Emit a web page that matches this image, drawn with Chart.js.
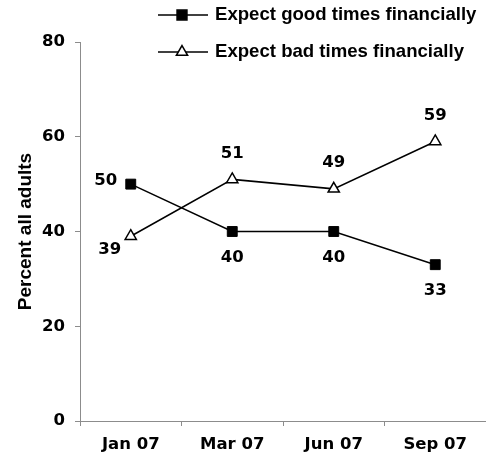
<!DOCTYPE html>
<html lang="en">
<head>
  <title>Financial expectations</title>
  <meta charset="UTF-8">
  <script src="https://cdn.jsdelivr.net/npm/chart.js"></script>
  <style>
    html, body { margin: 0; padding: 0; background: #fff; }
    #wrap { width: 486px; height: 465px; }
  </style>
</head>
<body>
<div id="wrap"><canvas id="finChart"></canvas></div>

<script>
  // chart data
  const months = ['Jan 07', 'Mar 07', 'Jun 07', 'Sep 07'];
  const goodTimes = [50, 40, 40, 33];
  const badTimes = [39, 51, 49, 59];
  const seriesNames = ['Expect good times financially', 'Expect bad times financially'];
  const yTicks = [0, 20, 40, 60, 80];

  // where each value label sits relative to its point
  const goodPlace = ['left', 'below', 'below', 'below'];
  const badPlace = ['leftBelow', 'above', 'above', 'above'];

  const labelFont = 'bold 16.5px "DejaVu Sans"';
  const axisGrey = '#8c8c8c';

  const offsets = {
    left: [-25, -3],
    leftBelow: [-21, 13],
    above: [0, -26],
    below: [0, 26]
  };

  // value labels next to points
  const valueLabels = {
    id: 'valueLabels',
    afterDatasetsDraw(chart) {
      const ctx = chart.ctx;
      ctx.save();
      ctx.font = labelFont;
      ctx.fillStyle = '#000';
      ctx.textAlign = 'center';
      ctx.textBaseline = 'middle';
      const places = [goodPlace, badPlace];
      chart.data.datasets.forEach((ds, i) => {
        const meta = chart.getDatasetMeta(i);
        meta.data.forEach((pt, j) => {
          const off = offsets[places[i][j]];
          ctx.fillText(ds.data[j], pt.x + off[0], pt.y + off[1]);
        });
      });
      ctx.restore();
    }
  };

  // legend: line sample with marker in the middle, stacked rows
  const stackedLegend = {
    id: 'stackedLegend',
    afterDraw(chart) {
      const ctx = chart.ctx;
      const rows = [15, 52];
      ctx.save();
      chart.data.datasets.forEach((ds, i) => {
        const y = rows[i];
        ctx.strokeStyle = '#000';
        ctx.lineWidth = 1.5;
        ctx.beginPath();
        ctx.moveTo(158, y);
        ctx.lineTo(208, y);
        ctx.stroke();
        ctx.fillStyle = ds.pointBackgroundColor;
        ctx.strokeStyle = ds.pointBorderColor;
        Chart.helpers.drawPoint(ctx, {
          pointStyle: ds.pointStyle,
          radius: ds.pointRadius,
          borderWidth: ds.pointBorderWidth,
          rotation: 0
        }, 182, y);
        ctx.fillStyle = '#000';
        ctx.font = 'bold 18.6px "Liberation Sans"';
        ctx.textAlign = 'left';
        ctx.textBaseline = 'middle';
        ctx.fillText(ds.label, 215, y);
      });
      ctx.restore();
    }
  };

  const ctx = document.getElementById('finChart').getContext('2d');
  const chart = new Chart(ctx, {
    type: 'line',
    data: {
      labels: months,
      datasets: [{
        label: seriesNames[0],
        data: goodTimes,
        borderColor: '#000',
        borderWidth: 1.5,
        pointStyle: 'rect',
        pointRadius: 7,
        pointBorderWidth: 1,
        pointBackgroundColor: '#000',
        pointBorderColor: '#000',
        tension: 0
      }, {
        label: seriesNames[1],
        data: badTimes,
        borderColor: '#000',
        borderWidth: 1.5,
        pointStyle: 'triangle',
        pointRadius: 6.5,
        pointBorderWidth: 1.5,
        pointBackgroundColor: '#fff',
        pointBorderColor: '#000',
        tension: 0
      }]
    },
    options: {
      responsive: true,
      maintainAspectRatio: false,
      animation: false,
      layout: {
        autoPadding: false,
        padding: { top: 42, left: 0, right: -2, bottom: 0 }
      },
      plugins: {
        legend: { display: false },
        tooltip: { enabled: false }
      },
      scales: {
        x: {
          offset: true,
          grid: {
            offset: true,
            drawOnChartArea: false,
            tickLength: 5,
            color: axisGrey
          },
          border: { color: axisGrey, width: 1 },
          ticks: {
            color: '#000',
            font: { family: 'DejaVu Sans', weight: 'bold', size: 16.5 },
            padding: 9,
            maxRotation: 0
          },
          afterFit(scale) { scale.height = 44; }
        },
        y: {
          min: 0,
          max: 80,
          afterBuildTicks(scale) {
            scale.ticks = yTicks.map(v => ({ value: v }));
          },
          grid: {
            drawOnChartArea: false,
            tickLength: 5,
            color: axisGrey
          },
          border: { color: axisGrey, width: 1 },
          ticks: {
            color: '#000',
            font: { family: 'DejaVu Sans', weight: 'bold', size: 16.5 },
            padding: 10
          },
          title: {
            display: true,
            text: 'Percent all adults',
            color: '#000',
            font: { family: 'Liberation Sans', weight: 'bold', size: 19 },
            padding: { top: 14, bottom: 0 }
          },
          afterFit(scale) { scale.width = 80; }
        }
      }
    },
    plugins: [valueLabels, stackedLegend]
  });
</script>
</body>
</html>
